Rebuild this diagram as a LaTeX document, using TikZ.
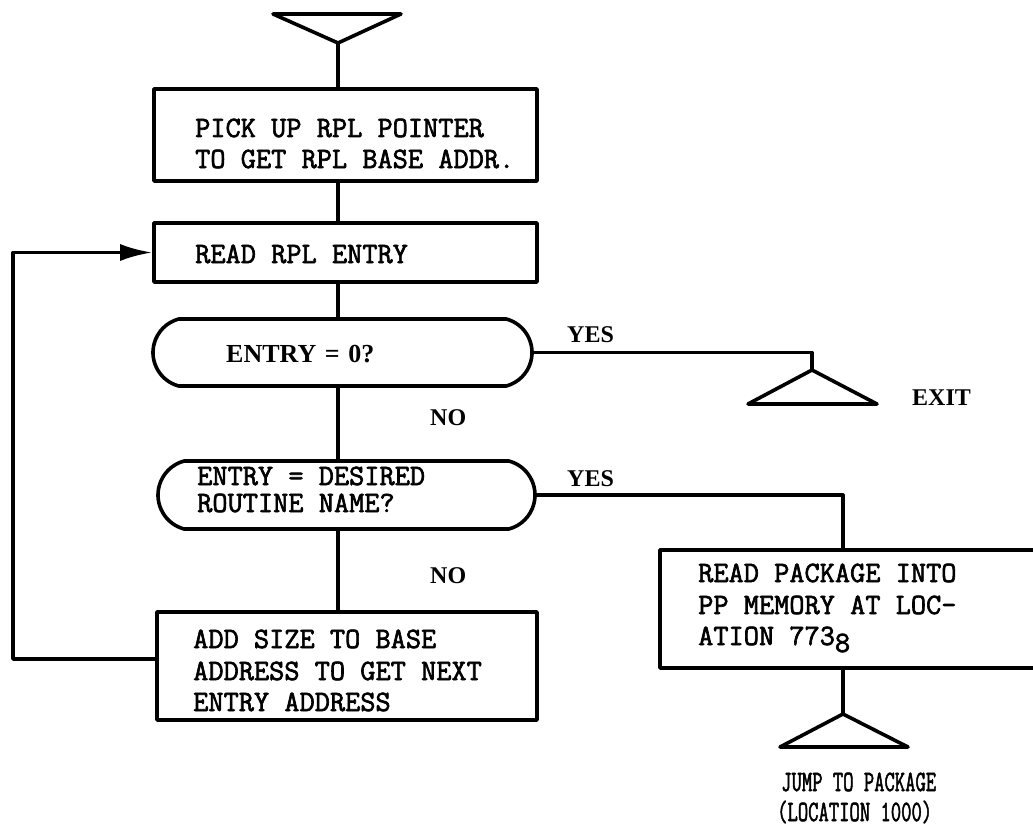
\documentclass[tikz,border=0pt]{standalone}
\usepackage{fontspec}
\usepackage{graphicx}
\setmainfont{Liberation Serif}
\newfontfamily\tw[AutoFakeBold=2.2]{Latin Modern Mono}
\usetikzlibrary{shapes.misc,arrows.meta}
\begin{document}
\begin{tikzpicture}[x=1pt,y=-1pt,
  line cap=round, line join=round,
  box/.style={draw, line width=3.6pt, rectangle, inner sep=0pt},
  dec/.style={draw, line width=3.6pt, rounded rectangle, rounded rectangle arc length=150, inner sep=0pt},
  twtext/.style={font={\tw\bfseries\fontsize{29.5}{30}\selectfont}, inner sep=0pt, anchor=base west},
  lbl/.style={font={\bfseries\fontsize{24}{28}\selectfont}, inner sep=0pt, anchor=base west},
  flow/.style={line width=3.2pt},
  term/.style={line width=3.6pt},
  loop/.style={line width=3.6pt, -{Latex[length=32pt,width=17pt]}}
]
\useasboundingbox (0,0) rectangle (1033,832);
\fill[white] (0,0) rectangle (1033,832);
\clip (0,0) rectangle (1033,832);

% terminals
\coordinate (top) at (338,43);
\coordinate (exit) at (812,370);
\coordinate (jump) at (843,714);
\coordinate (loopx) at (13,0);

% boxes and decisions
\node[box, minimum width=383pt, minimum height=92pt] (b1) at (345.5,135) {};
\node[box, minimum width=383pt, minimum height=59pt] (b2) at (345.5,252.5) {};
\node[dec, minimum width=379pt, minimum height=67pt] (d1) at (342.5,352.5) {};
\node[dec, minimum width=377pt, minimum height=68pt] (d2) at (346.5,495) {};
\node[box, minimum width=380pt, minimum height=108pt] (b4) at (347,666) {};
\node[box, minimum width=376pt, minimum height=118pt] (b3) at (848,609) {};

% triangles
\draw[term] (273,14) -- (401,14) -- (top) -- cycle;
\draw[term] (exit) -- (877,404) -- (748,404) -- cycle;
\draw[term] (jump) -- (908,747) -- (780,747) -- cycle;

% connectors
\draw[flow] (top) -- (top |- b1.north);
\draw[flow] (b1.south -| top) -- (b2.north -| top);
\draw[flow] (b2.south -| top) -- (d1.north -| top);
\draw[flow] (d1.south -| top) -- (d2.north -| top);
\draw[flow] (d2.south -| top) -- (b4.north -| top);
\draw[flow] (d1.east) -| (exit);
\draw[flow] (d2.east) -| (jump |- b3.north);
\draw[flow] (jump |- b3.south) -- (jump);
\draw[loop] ([yshift=7pt]b4.west) -| (loopx |- b2.west) -- (b2.west);

% texts
\node[twtext] at (195,137) {PICK UP RPL POINTER};
\node[twtext] at (195,168) {TO GET RPL BASE ADDR.};
\node[twtext] at (195,263) {READ RPL ENTRY};
\node[lbl, font={\bfseries\fontsize{26}{30}\selectfont}] at (226,362) {ENTRY\,\,=\,\,0?};
\node[twtext] at (197,485) {ENTRY = DESIRED};
\node[twtext] at (197,512) {ROUTINE NAME?};
\node[twtext] at (193,648) {ADD SIZE TO BASE};
\node[twtext] at (193,680) {ADDRESS TO GET NEXT};
\node[twtext] at (193,711) {ENTRY ADDRESS};
\node[twtext] at (698,582) {READ PACKAGE INTO};
\node[twtext] at (698,614) {PP MEMORY AT LOC-};
\node[twtext] at (698,645) {ATION 773\raisebox{-7pt}{8}};
\node[lbl] at (567,342) {YES};
\node[lbl] at (567,486) {YES};
\node[lbl] at (430,425) {NO};
\node[lbl] at (430,583) {NO};
\node[lbl] at (912,405) {EXIT};
\node[twtext] at (781,791) {\scalebox{0.68}[1]{JUMP TO PACKAGE}};
\node[twtext] at (777,821) {\scalebox{0.68}[1]{(LOCATION 1000)}};
\end{tikzpicture}
\end{document}
